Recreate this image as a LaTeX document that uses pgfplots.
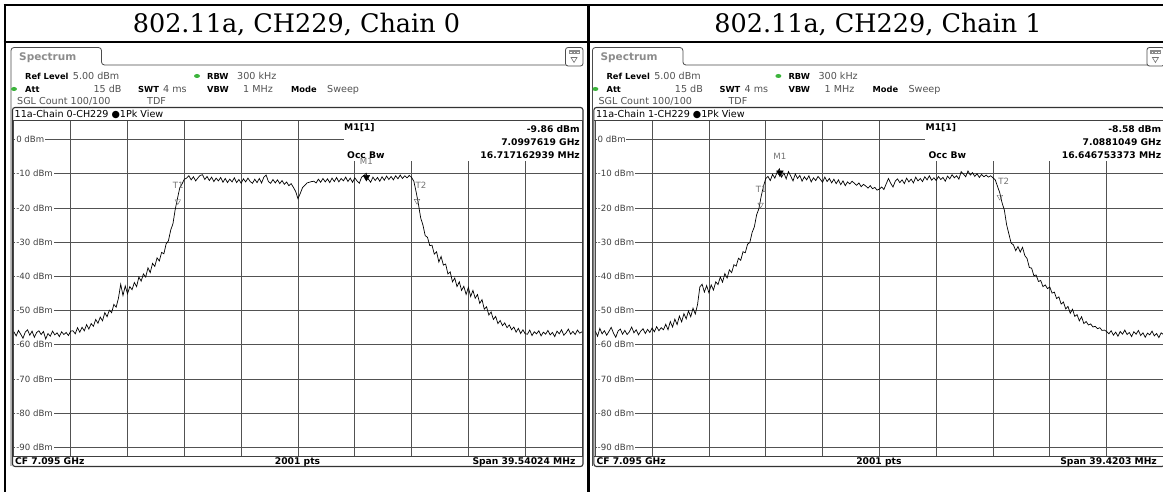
\documentclass[border=0pt]{standalone}
\usepackage{pgfplots}
\pgfplotsset{compat=1.18}
\usepackage{fontspec}
\setmainfont{DejaVu Sans}
\newfontfamily\titlefont{DejaVu Serif}
\definecolor{rsgreen}{RGB}{60,180,60}
\newcommand\rs{\fontsize{8.6}{10}\selectfont}
\newcommand\rsh{\fontsize{9.6}{11}\selectfont}
\newcommand\rshb{\fontsize{8.3}{11}\selectfont\bfseries}
\newcommand\rsb{\fontsize{9.2}{11}\selectfont\bfseries}
\tikzset{
  t/.style={inner sep=0pt, anchor=base west, font=\rsh, text=black!68},
  th/.style={inner sep=0pt, anchor=base west, font=\rshb, text=black},
  tb/.style={inner sep=0pt, anchor=base west, font=\rsb, text=black},
  lbl/.style={anchor=west, fill=white, inner sep=0.8pt, text=black!75, font=\rs, xshift=1.4pt},
  mk/.style={inner sep=0pt, font=\rs, text=black!55},
}
\pgfplotsset{rsaxis/.style={
  scale only axis, width=568.1pt, height=335.5pt, anchor=north west,
  xmin=0, xmax=2000, ymin=-92.5, ymax=5.55,
  xtick={200,400,...,1800}, ytick={-90,-80,...,0},
  xticklabels={}, yticklabels={}, major tick length=0pt,
  grid=major, major grid style={black!68, line width=0.75pt},
  axis line style={black!70, line width=0.8pt},
}}
% panel decoration, pixel coordinates (y downwards)
\newcommand\deco[5]{%
  \draw[black!70, line width=0.8pt, rounded corners=3pt] (11,466) -- (11,47.5) -- (101.5,47.5) -- (101.5,65) -- (565.5,65);
  \draw[black!70, line width=0.8pt, rounded corners=2.5pt] (565.5,47.5) rectangle (583,66);
  \fill[black!45] (568.5,50.5) rectangle (580,54.5);
  \foreach \i in {0,1,2} \fill[white] (570.3+\i*3.3,51.8) rectangle ++(1.6,1.4);
  \draw[black!55, line width=0.6pt] (571,57.5) -- (577,57.5) -- (574,62.5) -- cycle;
  \draw[black!80, line width=1.1pt, rounded corners=2.5pt] (12.5,107.5) rectangle (583,466.5);
  \draw[black!75, line width=0.8pt] (12.5,120.5) -- (583,120.5);
  \draw[black!75, line width=0.8pt] (12.5,456) -- (583,456);
  \node[inner sep=0pt, anchor=base west, text=black!45, font=\fontsize{10.5}{12}\selectfont\bfseries] at (19,61) {Spectrum};
  \node[th] at (25,79.5) {Ref Level};
  \node[t] at (72.7,79.5) {5.00 dBm};
  \fill[rsgreen] (197,76) ellipse (3 and 2);
  \node[th] at (207,79.5) {RBW};
  \node[t] at (237,79.5) {300 kHz};
  \fill[rsgreen] (14,89) ellipse (3 and 2);
  \node[th] at (25,92.5) {Att};
  \node[t, anchor=base east] at (121.7,92.5) {15 dB};
  \node[th] at (138,92.5) {SWT};
  \node[t] at (163,92.5) {4 ms};
  \node[th] at (207,92.5) {VBW};
  \node[t] at (243,92.5) {1 MHz};
  \node[th] at (291,92.5) {Mode};
  \node[t] at (327,92.5) {Sweep};
  \node[t] at (17,104.5) {SGL Count 100/100};
  \node[t] at (147,104.5) {TDF};
  \node[t, text=black] at (14.5,117.3) {#1};
  \node[tb] at (344,131) {M1[1]};
  \node[tb, anchor=base east] at (580,132.5) {#2};
  \node[tb, anchor=base east] at (580,145.5) {#3};
  \node[tb] at (347,158.3) {Occ Bw};
  \node[tb, anchor=base east] at (580,158.3) {#4};
  \node[tb] at (15,464.5) {CF 7.095 GHz};
  \node[tb, anchor=base] at (297.5,464.5) {2001 pts};
  \node[tb, anchor=base east] at (575.6,464.5) {#5};
}
\newcommand\dbmlabels{%
  \fill[white] (axis cs:1162,5.55) rectangle (axis cs:2000,-6.3);
  \node[lbl] at (axis cs:0,0) {0 dBm};
  \node[lbl] at (axis cs:0,-10) {-10 dBm};
  \node[lbl] at (axis cs:0,-20) {-20 dBm};
  \node[lbl] at (axis cs:0,-30) {-30 dBm};
  \node[lbl] at (axis cs:0,-40) {-40 dBm};
  \node[lbl] at (axis cs:0,-50) {-50 dBm};
  \node[lbl] at (axis cs:0,-60) {-60 dBm};
  \node[lbl] at (axis cs:0,-70) {-70 dBm};
  \node[lbl] at (axis cs:0,-80) {-80 dBm};
  \node[lbl] at (axis cs:0,-90) {-90 dBm};
}
\begin{document}
\begin{tikzpicture}
\useasboundingbox (0pt,0pt) rectangle (1163pt,492pt);
\fill[white] (0pt,0pt) rectangle (1163pt,492pt);
% ---------------- Chain 0 ----------------
\begin{axis}[rsaxis, at={(13.9pt,371.5pt)}]
\dbmlabels
\addplot[black, line width=0.7pt] coordinates {
(0,-56.2)(8,-57.4)(16,-55.8)(24,-56.9)(32,-58.1)(40,-56.3)(48,-55.6)(56,-57.2)(64,-56.0)(72,-57.8)
(80,-56.4)(88,-55.9)(96,-57.0)(104,-56.1)(112,-58.3)(120,-56.7)(128,-57.5)(136,-56.0)(144,-57.1)(152,-56.5)
(160,-57.6)(168,-56.2)(176,-57.0)(184,-56.4)(192,-57.3)(200,-56.0)(208,-55.9)(216,-56.8)(224,-55.0)(232,-56.3)
(240,-54.9)(248,-55.9)(256,-54.1)(264,-55.4)(272,-53.8)(280,-54.6)(288,-52.6)(296,-53.7)(304,-51.9)(312,-53.0)
(320,-50.6)(328,-51.8)(336,-49.9)(344,-50.6)(352,-48.2)(360,-49.0)(368,-46.4)(376,-42.3)(384,-45.6)(392,-42.8)
(400,-45.1)(408,-43.0)(416,-43.9)(424,-41.8)(432,-43.0)(440,-40.2)(448,-41.4)(456,-39.3)(464,-40.2)(472,-37.5)
(480,-38.9)(488,-36.2)(496,-37.1)(504,-34.6)(512,-35.5)(520,-33.0)(528,-33.4)(536,-30.5)(544,-29.6)(552,-26.5)
(560,-24.6)(568,-20.4)(576,-17.2)(584,-14.1)(592,-13.0)(600,-11.6)(608,-11.3)(616,-10.6)(624,-11.8)(632,-10.9)
(640,-12.1)(648,-11.2)(656,-10.5)(664,-10.3)(672,-11.7)(680,-10.8)(688,-12.0)(696,-11.0)(704,-12.3)(712,-11.3)
(720,-12.1)(728,-11.1)(736,-12.5)(744,-11.4)(752,-12.6)(760,-11.6)(768,-12.4)(776,-11.2)(784,-12.6)(792,-11.7)
(800,-12.8)(808,-11.5)(816,-12.4)(824,-11.3)(832,-12.3)(840,-12.8)(848,-11.6)(856,-12.6)(864,-11.4)(872,-12.7)
(880,-11.0)(888,-10.4)(896,-12.3)(904,-12.8)(912,-11.7)(920,-12.7)(928,-11.8)(936,-12.9)(944,-12.0)(952,-13.1)
(960,-12.4)(968,-13.5)(976,-12.9)(984,-14.0)(992,-15.2)(1000,-17.3)(1008,-15.8)(1016,-14.1)(1024,-13.4)(1032,-12.7)
(1040,-12.5)(1048,-12.3)(1056,-12.2)(1064,-12.7)(1072,-11.6)(1080,-12.5)(1088,-11.4)(1096,-12.4)(1104,-11.5)(1112,-12.6)
(1120,-11.3)(1128,-12.3)(1136,-11.1)(1144,-12.4)(1152,-11.4)(1160,-12.1)(1168,-11.0)(1176,-12.3)(1184,-11.3)(1192,-12.5)
(1200,-11.2)(1208,-12.1)(1216,-12.8)(1224,-11.0)(1232,-10.6)(1240,-9.86)(1248,-11.6)(1256,-12.5)(1264,-11.0)(1272,-12.0)
(1280,-11.1)(1288,-12.2)(1296,-10.9)(1304,-11.9)(1312,-10.7)(1320,-11.7)(1328,-10.8)(1336,-11.8)(1344,-10.6)(1352,-11.5)
(1360,-10.4)(1368,-11.4)(1376,-10.6)(1384,-11.2)(1392,-10.5)(1400,-11.1)(1408,-12.2)(1416,-15.3)(1424,-18.8)(1432,-22.9)
(1440,-25.0)(1448,-28.1)(1456,-28.6)(1464,-31.0)(1472,-30.9)(1480,-33.5)(1488,-32.8)(1496,-35.8)(1504,-34.2)(1512,-36.7)
(1520,-36.4)(1528,-39.3)(1536,-38.7)(1544,-41.6)(1552,-40.5)(1560,-43.0)(1568,-41.6)(1576,-44.1)(1584,-42.9)(1592,-45.3)
(1600,-43.2)(1608,-45.9)(1616,-44.1)(1624,-46.4)(1632,-45.3)(1640,-47.9)(1648,-46.8)(1656,-49.6)(1664,-48.9)(1672,-51.3)
(1680,-50.4)(1688,-52.6)(1696,-51.7)(1704,-53.8)(1712,-52.9)(1720,-54.4)(1728,-53.6)(1736,-55.0)(1744,-54.2)(1752,-55.6)
(1760,-54.8)(1768,-56.3)(1776,-55.2)(1784,-56.7)(1792,-55.6)(1800,-56.8)(1808,-56.9)(1816,-55.7)(1824,-57.3)(1832,-56.2)
(1840,-56.8)(1848,-55.9)(1856,-57.4)(1864,-56.3)(1872,-56.9)(1880,-55.8)(1888,-57.1)(1896,-56.4)(1904,-57.6)(1912,-56.0)
(1920,-56.8)(1928,-55.6)(1936,-57.2)(1944,-56.5)(1952,-55.4)(1960,-56.9)(1968,-56.1)(1976,-57.0)(1984,-55.7)(1992,-56.6)
(2000,-56.2)};
\addplot[only marks, mark=triangle*, mark size=3.8pt, mark options={rotate=180, fill=black, draw=black, yshift=4pt}] coordinates {(1241,-9.86)};
\addplot[only marks, mark=triangle, mark size=3.2pt, mark options={rotate=180, draw=black!60, yshift=4pt}] coordinates {(577,-16.9)(1419,-16.8)};
\node[mk] at (axis cs:1241,-9.86) [yshift=12pt] {M1};
\node[mk] at (axis cs:577,-16.9) [yshift=11.5pt, xshift=0.5pt] {T1};
\node[mk] at (axis cs:1419,-16.8) [yshift=11.5pt, xshift=4pt] {T2};
\end{axis}
% ---------------- Chain 1 ----------------
\begin{axis}[rsaxis, at={(595.3pt,371.5pt)}]
\dbmlabels
\addplot[black, line width=0.7pt] coordinates {
(0,-56.0)(8,-57.5)(16,-55.2)(24,-56.8)(32,-55.9)(40,-57.2)(48,-56.1)(56,-54.9)(64,-56.6)(72,-57.8)
(80,-56.0)(88,-55.4)(96,-56.9)(104,-55.8)(112,-57.0)(120,-56.2)(128,-54.8)(136,-56.5)(144,-55.6)(152,-57.1)
(160,-56.0)(168,-55.3)(176,-56.7)(184,-55.5)(192,-56.4)(200,-55.1)(208,-56.2)(216,-54.7)(224,-55.9)(232,-55.0)
(240,-55.6)(248,-54.0)(256,-55.6)(264,-53.2)(272,-54.8)(280,-52.5)(288,-54.1)(296,-51.6)(304,-53.3)(312,-50.9)
(320,-52.4)(328,-50.1)(336,-51.8)(344,-49.3)(352,-51.0)(360,-48.2)(368,-43.1)(376,-42.3)(384,-44.6)(392,-42.7)
(400,-44.8)(408,-42.5)(416,-44.0)(424,-41.6)(432,-42.4)(440,-40.2)(448,-41.7)(456,-39.2)(464,-40.5)(472,-38.1)
(480,-38.9)(488,-36.6)(496,-37.0)(504,-34.7)(512,-35.3)(520,-32.8)(528,-33.1)(536,-30.6)(544,-30.1)(552,-27.2)
(560,-25.5)(568,-22.0)(576,-20.2)(584,-16.6)(592,-13.7)(600,-11.4)(608,-10.8)(616,-12.0)(624,-10.2)(632,-11.3)
(640,-9.6)(648,-8.58)(656,-11.0)(664,-9.8)(672,-11.5)(680,-9.4)(688,-10.7)(696,-12.1)(704,-10.1)(712,-11.4)
(720,-10.5)(728,-12.2)(736,-10.9)(744,-11.8)(752,-10.6)(760,-12.4)(768,-11.2)(776,-12.0)(784,-10.8)(792,-11.6)
(800,-12.5)(808,-11.0)(816,-12.3)(824,-11.4)(832,-12.7)(840,-11.6)(848,-12.9)(856,-11.8)(864,-13.2)(872,-12.1)
(880,-13.5)(888,-12.4)(896,-13.0)(904,-12.2)(912,-12.8)(920,-13.4)(928,-12.7)(936,-13.8)(944,-13.1)(952,-13.6)
(960,-14.2)(968,-13.5)(976,-14.4)(984,-14.0)(992,-14.8)(1000,-14.5)(1008,-13.9)(1016,-14.6)(1024,-13.0)(1032,-11.4)
(1040,-12.8)(1048,-13.9)(1056,-12.2)(1064,-11.5)(1072,-12.6)(1080,-11.8)(1088,-12.9)(1096,-11.3)(1104,-12.4)(1112,-11.6)
(1120,-12.7)(1128,-11.0)(1136,-12.1)(1144,-11.4)(1152,-12.3)(1160,-10.9)(1168,-11.8)(1176,-10.6)(1184,-11.9)(1192,-11.2)
(1200,-12.0)(1208,-10.8)(1216,-11.7)(1224,-11.1)(1232,-12.2)(1240,-10.7)(1248,-11.5)(1256,-10.3)(1264,-11.2)(1272,-10.6)
(1280,-11.6)(1288,-9.4)(1296,-10.1)(1304,-10.9)(1312,-9.2)(1320,-10.4)(1328,-9.7)(1336,-10.8)(1344,-10.0)(1352,-11.1)
(1360,-10.2)(1368,-10.9)(1376,-10.4)(1384,-11.0)(1392,-10.6)(1400,-11.2)(1408,-11.8)(1416,-13.7)(1424,-15.6)(1432,-18.5)
(1440,-20.6)(1448,-24.9)(1456,-27.6)(1464,-30.3)(1472,-30.8)(1480,-32.5)(1488,-31.3)(1496,-32.9)(1504,-31.5)(1512,-33.9)
(1520,-34.8)(1528,-37.4)(1536,-37.6)(1544,-39.8)(1552,-39.6)(1560,-41.5)(1568,-41.2)(1576,-43.0)(1584,-42.5)(1592,-43.6)
(1600,-43.1)(1608,-44.9)(1616,-44.6)(1624,-46.5)(1632,-46.0)(1640,-48.1)(1648,-47.5)(1656,-49.5)(1664,-48.8)(1672,-50.8)
(1680,-49.6)(1688,-51.7)(1696,-51.2)(1704,-53.0)(1712,-51.8)(1720,-53.8)(1728,-53.2)(1736,-54.2)(1744,-53.9)(1752,-54.8)
(1760,-54.6)(1768,-55.3)(1776,-55.0)(1784,-55.8)(1792,-55.7)(1800,-56.1)(1808,-56.8)(1816,-55.9)(1824,-57.2)(1832,-56.3)
(1840,-57.5)(1848,-56.1)(1856,-56.9)(1864,-55.7)(1872,-57.0)(1880,-56.4)(1888,-57.6)(1896,-56.2)(1904,-56.9)(1912,-55.8)
(1920,-57.3)(1928,-56.5)(1936,-57.8)(1944,-56.6)(1952,-57.1)(1960,-56.0)(1968,-57.4)(1976,-56.7)(1984,-57.9)(1992,-56.5)
(2000,-57.0)};
\addplot[only marks, mark=triangle*, mark size=3.8pt, mark options={rotate=180, fill=black, draw=black, yshift=4pt}] coordinates {(650,-8.58)};
\addplot[only marks, mark=triangle, mark size=3.2pt, mark options={rotate=180, draw=black!60, yshift=4pt}] coordinates {(582,-17.9)(1424,-15.6)};
\node[mk] at (axis cs:650,-8.58) [yshift=12pt] {M1};
\node[mk] at (axis cs:582,-17.9) [yshift=11.5pt, xshift=0.5pt] {T1};
\node[mk] at (axis cs:1424,-15.6) [yshift=11.5pt, xshift=4pt] {T2};
\end{axis}
% ---------------- decorations ----------------
\begin{scope}[x=1pt, y=-1pt, shift={(0pt,492pt)}]
  \deco{11a-Chain 0-CH229 ●1Pk View}{-9.86 dBm}{7.0997619 GHz}{16.717162939 MHz}{Span 39.54024 MHz}
  \draw[black, line width=2.5pt] (3.5,5) -- (1163,5);
  \draw[black, line width=2.5pt] (3.5,42) -- (1163,42);
  \draw[black, line width=2.5pt] (5.2,3.8) -- (5.2,492);
  \draw[black, line width=2.5pt] (588.3,3.8) -- (588.3,492);
  \node[inner sep=0pt, anchor=base, font=\titlefont\fontsize{25.5}{30}\selectfont] at (296.5,33) {802.11a, CH229, Chain 0};
  \node[inner sep=0pt, anchor=base, font=\titlefont\fontsize{25.5}{30}\selectfont] at (878,33) {802.11a, CH229, Chain 1};
\end{scope}
\begin{scope}[x=1pt, y=-1pt, shift={(581.4pt,492pt)}]
  \deco{11a-Chain 1-CH229 ●1Pk View}{-8.58 dBm}{7.0881049 GHz}{16.646753373 MHz}{Span 39.4203 MHz}
\end{scope}
\end{tikzpicture}
\end{document}
